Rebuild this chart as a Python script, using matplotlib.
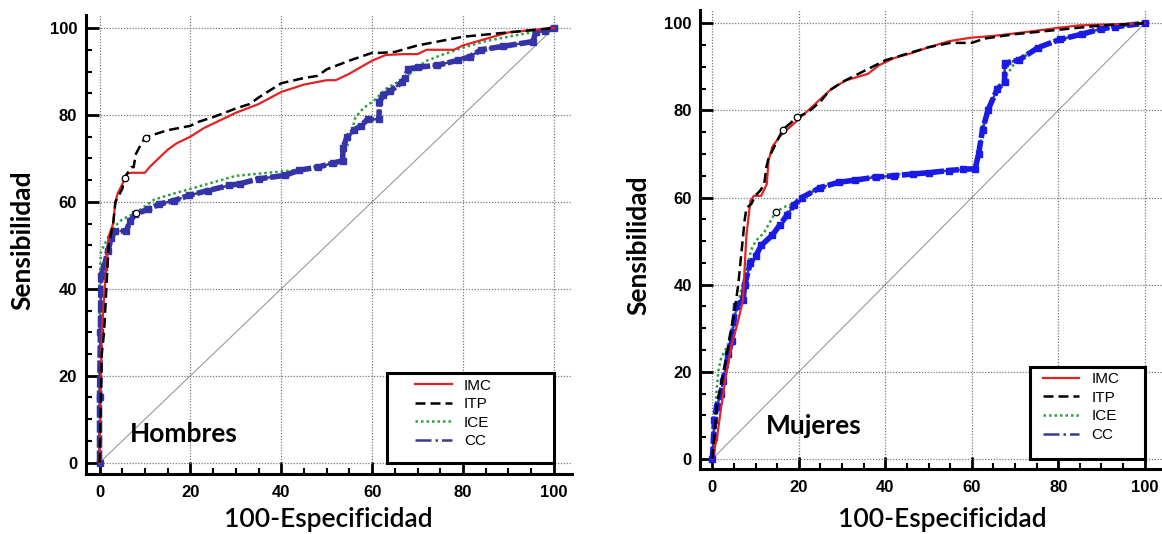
import matplotlib
matplotlib.use("Agg")
import matplotlib.pyplot as plt
from matplotlib.patches import Rectangle
from matplotlib.ticker import MultipleLocator

# ---- Hombres (left panel) ----
h_imc_x = [0, 0.5, 1, 1.5, 2, 3, 3.5, 4, 5, 6, 7, 10, 11, 13, 15, 17, 20, 23, 25, 30, 35, 40, 45, 50, 52, 55, 60, 63, 67, 70, 72, 78, 80, 85, 90, 95, 100]
h_imc_y = [0, 30, 38, 45, 52, 55, 60, 62, 64, 66.5, 66.7, 66.7, 68, 70, 72, 73.5, 75, 77, 78, 80.5, 82.5, 85.3, 87, 88, 88, 89.5, 92.5, 93.8, 94, 94, 95, 95, 96, 97.5, 99, 99.5, 100]

h_itp_x = [0, 0.5, 1, 1.5, 2, 3, 3.5, 4, 5, 5.5, 7, 7.5, 8, 9, 10, 12, 15, 20, 22, 25, 30, 33, 35, 40, 45, 48, 50, 55, 60, 62, 65, 70, 75, 80, 85, 90, 95, 100]
h_itp_y = [0, 25, 30, 40, 50, 55, 60, 61, 63, 65.5, 68, 68, 71, 73, 74.8, 75.5, 76.5, 77.5, 78.5, 79.5, 81.5, 82.5, 84, 87.3, 88.5, 89, 90.5, 92.5, 94.3, 94.3, 94.5, 96, 97, 98, 98.5, 99, 99.5, 100]

h_ice_x = [0, 0, 0.3, 1, 2, 3, 5, 8, 12, 15, 20, 25, 30, 35, 40, 45, 50, 53, 55, 56.3, 58, 60.4, 63, 67, 71.8, 75.8, 80, 85, 90, 95, 100]
h_ice_y = [0, 40, 48.5, 50, 52, 54, 56, 57.5, 60.5, 61.5, 63, 64.5, 66, 66.5, 67, 67.5, 68.5, 69.5, 74, 79.4, 81.5, 83.3, 86, 88.4, 92.4, 94, 95.5, 97, 98, 99, 100]

h_cc_x = [0, 0, 0.2, 0.3, 1, 1.8, 2.6, 3.4, 5.9, 6.7, 7.9, 10.7, 13.2, 16.4, 19.7, 23.8, 28.6, 31, 35, 40.8, 44, 48, 51.4, 53.5, 53.6, 54.5, 56, 57.5, 59, 61.5, 61.6, 62.5, 64, 66.5, 67.2, 68, 70.2, 74.2, 79, 81.5, 84, 88.9, 95.4, 96, 98, 100]
h_cc_y = [0, 15, 30, 43, 45, 48.6, 51.7, 53.3, 53.3, 55.6, 57.2, 58.3, 59.5, 60.3, 61.5, 62.6, 63.8, 64.2, 65.3, 66.1, 67.3, 68, 68.9, 69.5, 72.5, 75, 76.5, 77.5, 79, 79, 83, 84.6, 85.5, 87.5, 88.5, 90.6, 91, 91.4, 92.6, 93.4, 95, 95.8, 96.9, 99, 99.3, 100]

h_cut_x = [5.5, 10.2, 8.0]
h_cut_y = [65.6, 74.8, 57.5]

# ---- Mujeres (right panel) ----
m_imc_x = [0, 1.1, 2, 3.2, 4.5, 5.8, 7.1, 7.5, 7.9, 8.8, 9.6, 11.3, 12.6, 13, 13.9, 15.6, 17.3, 19, 20.7, 22.4, 25, 27.5, 30.9, 36, 38.6, 42, 46.3, 49.7, 54.8, 59.9, 65, 71.9, 80.4, 84.7, 90, 100]
m_imc_y = [0, 5, 11.5, 19.3, 26.3, 31, 36.5, 44.3, 51.4, 59.2, 60.4, 60.4, 63.1, 68.5, 71.7, 74, 75.6, 77.1, 78.7, 80.2, 82.6, 84.9, 86.9, 88.4, 90.4, 92, 93.2, 94.4, 95.9, 96.7, 97.1, 97.9, 99, 99.5, 99.7, 100]

m_itp_x = [0, 0.7, 1, 2, 3, 4, 5, 6, 6.5, 7, 7.5, 7.9, 9, 10, 11, 12, 12.5, 13, 14, 15, 16.3, 18, 19.5, 22, 25, 27, 30, 35, 40, 45, 50, 55, 60, 63, 70, 80, 85, 90, 100]
m_itp_y = [0, 7.6, 12, 17, 22, 28, 33, 40, 45, 50, 55, 57.6, 58.5, 60.5, 61.5, 63, 67, 69, 71, 73, 75.6, 77, 78.4, 79.5, 82, 84.5, 86.5, 89, 91.5, 93, 94.5, 95.5, 95.5, 96.5, 97.5, 98.5, 99, 99.5, 100]

m_ice_x = [0, 0.5, 1, 1.5, 2, 3, 4, 5, 6, 7, 8, 9, 10, 12, 14.7, 17, 20, 22, 25, 30, 35, 40, 45, 50, 55, 60, 61, 62, 63, 64, 66, 68, 70, 73, 76, 80, 85, 90, 95, 100]
m_ice_y = [0, 8, 16, 20.9, 23, 25, 27, 32, 36, 40, 44, 48, 50, 52, 56.8, 58, 59, 61, 62.5, 63.5, 64.5, 65, 65.5, 66, 66.3, 66.5, 67, 72, 78, 80.5, 84, 88, 91, 93, 94.5, 96, 97.5, 98.5, 99.5, 100]

m_cc_x = [0, 0.3, 0.5, 1, 2, 2.5, 3.7, 4.5, 5.4, 7.1, 7.5, 8.8, 10, 11.3, 13.9, 15.6, 17.3, 19, 20.7, 25, 29.2, 33, 37.8, 42, 46.3, 50, 54.8, 58, 60.8, 61.6, 62.5, 63.8, 65.9, 67.6, 67.6, 71, 75.3, 80.4, 85.5, 89.8, 93.2, 100]
m_cc_y = [0, 5, 9, 12, 15, 18, 24, 27, 35, 36.5, 40, 45, 46.5, 49, 51.4, 53.7, 56, 58.4, 60, 62.3, 63.5, 64, 64.7, 65, 65.4, 65.7, 66.2, 66.5, 66.6, 70.1, 75.6, 80.2, 84.9, 86.5, 90.8, 91.6, 94.4, 96.3, 97.5, 98.7, 99.2, 100]

m_cut_x = [16.3, 19.5, 14.7]
m_cut_y = [75.6, 78.4, 56.8]

series_names = ["IMC", "ITP", "ICE", "CC"]

fig = plt.figure(figsize=(11.62, 5.34), dpi=100)
ax1 = fig.add_axes([0.0736, 0.1124, 0.4187, 0.8595])
ax2 = fig.add_axes([0.6024, 0.1217, 0.3976, 0.8596])


def draw_panel(ax, imc, itp, ice, cc, cut, cc_color, xlim, ylim):
    ax.plot([0, 100], [0, 100], color="#9a9a9a", lw=0.8, zorder=1)
    ax.plot(imc[0], imc[1], color="#e02424", lw=1.6, label=series_names[0], zorder=3)
    ax.plot(itp[0], itp[1], color="black", lw=1.8, ls=(0, (4, 2)), label=series_names[1], zorder=4)
    ax.plot(ice[0], ice[1], color="#2e9e3e", lw=1.8, ls=(0, (1, 1.2)), label=series_names[2], zorder=2)
    ax.plot(cc[0], cc[1], color="#3b3b8f", lw=1.8, ls="-.", label=series_names[3], zorder=2)
    ax.plot(cc[0], cc[1], color=cc_color, lw=4, marker="s", ms=5, ls=(0, (2.2, 0.5)), zorder=2)
    ax.scatter(cut[0], cut[1], s=22, facecolors="white", edgecolors="black", lw=0.9, zorder=5)

    ax.set_xlim(*xlim)
    ax.set_ylim(*ylim)
    ax.xaxis.set_major_locator(MultipleLocator(20))
    ax.yaxis.set_major_locator(MultipleLocator(20))
    ax.xaxis.set_minor_locator(MultipleLocator(5))
    ax.yaxis.set_minor_locator(MultipleLocator(5))
    ax.grid(True, which="major", color="#7a7a7a", lw=0.9, ls=(0, (1, 1.3)))
    ax.tick_params(which="major", direction="in", length=9, width=2)
    ax.tick_params(which="minor", direction="in", length=4, width=1.5)
    for lab in ax.get_xticklabels() + ax.get_yticklabels():
        lab.set_fontweight("bold")
        lab.set_fontsize(12)
        lab.set_family("Liberation Sans")
    ax.tick_params(axis="x", pad=8)
    ax.tick_params(axis="y", pad=6)
    for side in ("top", "right"):
        ax.spines[side].set_visible(False)
    for side in ("left", "bottom"):
        ax.spines[side].set_linewidth(2.2)

    ax.set_ylabel("Sensibilidad", family="Lato", weight="bold", fontsize=19)
    ax.set_xlabel("100-Especificidad", family="Lato", weight="semibold", fontsize=19)


draw_panel(ax1, (h_imc_x, h_imc_y), (h_itp_x, h_itp_y), (h_ice_x, h_ice_y),
           (h_cc_x, h_cc_y), (h_cut_x, h_cut_y), "#3434a8", (-3.08, 104.0), (-2.6, 103.0))
draw_panel(ax2, (m_imc_x, m_imc_y), (m_itp_x, m_itp_y), (m_ice_x, m_ice_y),
           (m_cc_x, m_cc_y), (m_cut_x, m_cut_y), "#1a1ae6", (-2.85, 104.0), (-2.3, 103.05))

ax1.yaxis.set_label_coords(-0.106, 0.51)
ax1.xaxis.set_label_coords(0.50, -0.072)
ax2.yaxis.set_label_coords(-0.108, 0.488)
ax2.xaxis.set_label_coords(0.524, -0.083)

ax1.text(6.7, 6.6, "Hombres", family="Lato", weight="bold", fontsize=19, va="center", zorder=6)
ax2.text(12.4, 7.6, "Mujeres", family="Lato", weight="bold", fontsize=19, va="center", zorder=6)

# legend boxes
ax1.add_patch(Rectangle((63.3, 0), 36.7, 20.7, facecolor="white", edgecolor="black", lw=2.2, zorder=7))
ax2.add_patch(Rectangle((73.5, 0), 26.5, 21.1, facecolor="white", edgecolor="black", lw=2.2, zorder=7))

for ax, anchor in ((ax1, (0.677, 0.208)), (ax2, (0.742, 0.211))):
    leg = ax.legend(loc="upper left", bbox_to_anchor=anchor, frameon=False,
                    prop={"family": "Liberation Sans", "size": 11},
                    borderpad=0, borderaxespad=0, handlelength=2.4,
                    handletextpad=0.8, labelspacing=0.3)
    leg.set_zorder(8)

fig.savefig("out.png", dpi=100)
